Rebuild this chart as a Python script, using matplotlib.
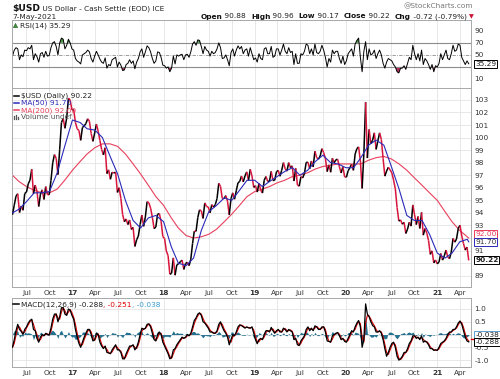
import matplotlib
matplotlib.use('Agg')
import numpy as np
import pandas as pd
import matplotlib.pyplot as plt
import matplotlib.dates as mdates
from matplotlib.collections import LineCollection

# ---------------- data (weekly closes, Fridays from 2016-05-06) ----------------
price_2016 = [93.86, 94.62, 95.33, 95.53, 94.03, 94.55, 94.21, 95.55, 95.66, 96.31, 96.61, 97.48,
              95.53, 96.22, 95.71, 94.51, 95.50, 95.84, 95.07, 96.10, 95.46, 95.45, 96.57, 97.99,
              98.65, 98.34, 97.05, 99.07, 101.20, 101.52, 100.74, 101.56, 103.15, 102.97, 102.21]
price_2017 = [102.23, 101.20, 100.70, 100.57, 99.78, 100.80, 100.94, 101.12, 101.50, 101.30, 100.33,
              99.70, 100.36, 101.08, 100.51, 99.77, 99.05, 98.62, 99.19, 97.13, 97.43, 96.68, 97.24,
              97.17, 97.25, 95.63, 96.01, 95.15, 93.87, 93.30, 93.52, 93.07, 93.44, 92.68, 92.85,
              91.33, 91.86, 92.16, 93.08, 93.83, 92.93, 93.68, 94.90, 94.81, 94.38, 93.66, 92.75,
              92.88, 93.90, 93.95, 93.33, 92.12]
price_2018 = [91.96, 90.97, 90.60, 89.12, 89.18, 90.42, 89.04, 89.87, 89.94, 90.11, 90.24, 89.50,
              89.97, 90.07, 89.80, 90.31, 91.56, 92.55, 92.53, 93.63, 94.25, 94.17, 93.56, 94.80,
              94.51, 94.47, 94.01, 94.66, 94.46, 94.66, 95.14, 96.36, 96.11, 95.15, 95.13, 95.38,
              94.93, 93.85, 95.14, 95.60, 95.09, 95.76, 96.40, 96.51, 96.94, 96.47, 96.95, 97.27,
              96.59, 97.47, 96.94, 96.03]
price_2019 = [96.17, 95.66, 96.36, 95.82, 95.58, 96.61, 96.90, 96.51, 96.52, 97.31, 96.58, 96.60,
              97.28, 97.39, 96.92, 97.40, 98.01, 97.51, 97.33, 98.01, 97.60, 97.75, 96.54, 97.55,
              96.22, 96.13, 96.89, 96.79, 97.14, 98.02, 98.04, 97.51, 98.14, 97.66, 98.92, 98.40,
              98.28, 98.53, 99.12, 98.81, 98.32, 97.29, 97.83, 97.24, 98.36, 97.99, 98.24, 98.27,
              97.68, 97.18, 97.68, 96.87]
price_2020 = [96.84, 97.36, 97.60, 97.87, 97.39, 98.69, 99.12, 99.26, 98.13, 95.95, 98.74, 102.82,
              98.37, 100.65, 99.51, 99.79, 100.38, 99.06, 99.74, 100.38, 99.84, 98.34, 96.93, 97.33,
              97.64, 97.43, 97.19, 96.61, 95.92, 94.43, 93.35, 93.44, 93.10, 93.25, 92.36, 92.72,
              93.26, 92.95, 94.64, 93.85, 93.07, 93.72, 92.76, 94.04, 92.23, 92.76, 92.39, 91.80,
              90.70, 90.98, 90.02, 90.25]
price_2021 = [89.94, 90.10, 90.77, 90.24, 90.58, 91.04, 90.48, 90.36, 90.88, 91.97, 91.67, 91.92,
              92.77, 93.02, 92.16, 91.56, 91.04, 91.28, 90.22]
price = price_2016 + price_2017 + price_2018 + price_2019 + price_2020 + price_2021

rsi = [48, 58, 62, 60, 42, 50, 47, 58, 57, 62, 60, 66, 42, 52, 47, 38, 52, 54, 46, 56, 48, 49, 62, 70,
       72, 64, 50, 70, 78, 76, 60, 66, 76, 70, 60,
       58, 44, 40, 38, 35, 50, 52, 54, 58, 55, 44, 38, 48, 56, 50, 43, 38, 36, 45, 28, 34, 32, 42, 44,
       46, 30, 38, 33, 24, 25, 34, 36, 42, 36, 40, 27, 38, 44, 55, 60, 46, 55, 65, 62, 55, 44, 36, 40,
       55, 54, 46, 33,
       32, 28, 30, 22, 28, 48, 35, 50, 48, 50, 51, 42, 50, 51, 46, 55, 68, 72, 66, 75, 74, 64, 52, 64,
       58, 56, 48, 56, 52, 54, 60, 70, 62, 44, 45, 50, 42, 32, 54, 60, 48, 58, 65, 60, 64, 52, 58, 60,
       48, 62, 52, 42,
       45, 38, 52, 44, 42, 60, 62, 52, 52, 64, 46, 48, 60, 60, 50, 58, 68, 56, 52, 62, 54, 56, 34, 52,
       36, 36, 52, 50, 56, 68, 66, 52, 60, 50, 68, 54, 52, 56, 66, 58, 46, 30, 44, 38, 58, 52, 56, 56,
       44, 36, 48, 34,
       40, 52, 56, 60, 48, 68, 74, 78, 46, 22, 56, 72, 42, 60, 50, 52, 58, 44, 52, 58, 50, 36, 28, 38,
       44, 42, 40, 34, 30, 22, 20, 28, 28, 32, 26, 36, 46, 42, 66, 52, 42, 52, 40, 58, 34, 44, 40, 34,
       26, 34, 22, 32,
       30, 36, 52, 42, 50, 58, 44, 42, 52, 66, 56, 58, 68, 66, 46, 40, 34, 40, 35.29]

macd = [-0.49, -0.2, 0.15, 0.4, 0.2, 0.12, 0.0, 0.2, 0.3, 0.45, 0.55, 0.6, 0.2, 0.15, -0.15, -0.3, -0.1,
        0.0, -0.05, 0.05, 0.0, -0.02, 0.25, 0.6, 0.8, 0.8, 0.5, 0.7, 1.05, 1.05, 0.8, 0.75, 1.0, 0.95, 0.75,
        0.6, 0.2, -0.1, -0.35, -0.5, -0.3, -0.1, 0.05, 0.2, 0.2, 0.0, -0.25, -0.2, 0.05, 0.0, -0.3, -0.45,
        -0.55, -0.45, -0.7, -0.72, -0.75, -0.6, -0.5, -0.4, -0.6, -0.6, -0.7, -0.95, -0.95, -0.75, -0.6,
        -0.45, -0.45, -0.4, -0.6, -0.5, -0.3, 0.0, 0.25, 0.2, 0.25, 0.4, 0.42, 0.3, 0.05, -0.2, -0.25,
        0.0, 0.1, 0.0, -0.3,
        -0.45, -0.6, -0.75, -0.95, -0.9, -0.6, -0.55, -0.4, -0.3, -0.2, -0.1, -0.15, -0.1, 0.0, -0.05,
        0.05, 0.3, 0.55, 0.65, 0.8, 0.85, 0.75, 0.5, 0.45, 0.35, 0.25, 0.1, 0.1, 0.05, 0.05, 0.15, 0.4,
        0.5, 0.3, 0.15, 0.05, -0.1, -0.4, -0.2, 0.0, -0.05, 0.1, 0.3, 0.38, 0.35, 0.3, 0.25, 0.3, 0.26,
        0.25, 0.3, 0.05,
        -0.2, -0.36, -0.2, -0.15, -0.2, 0.0, 0.15, 0.15, 0.1, 0.28, 0.15, 0.05, 0.15, 0.2, 0.1, 0.1, 0.25,
        0.2, 0.1, 0.2, 0.15, 0.1, -0.2, -0.15, -0.4, -0.43, -0.25, -0.15, -0.05, 0.2, 0.3, 0.15, 0.25,
        0.15, 0.34, 0.3, 0.2, 0.2, 0.3, 0.3, 0.1, -0.25, -0.27, -0.3, -0.05, 0.0, 0.05, 0.08, -0.05,
        -0.2, -0.15, -0.27,
        -0.3, -0.15, 0.0, 0.15, 0.1, 0.3, 0.45, 0.55, 0.3, -0.5, -0.2, 1.2, 0.8, 0.7, 0.5, 0.35, 0.3,
        0.1, 0.1, 0.15, 0.05, -0.2, -0.55, -0.85, -0.7, -0.5, -0.35, -0.3, -0.5, -0.85, -1.0, -0.95,
        -0.85, -0.7, -0.7, -0.55, -0.35, -0.25, -0.05, -0.05, -0.15, -0.1, -0.2, -0.05, -0.3, -0.25,
        -0.3, -0.4, -0.55, -0.55, -0.62, -0.6,
        -0.62, -0.5, -0.35, -0.3, -0.25, -0.15, 0.0, 0.1, 0.1, 0.2, 0.2, 0.3, 0.45, 0.53, 0.4, 0.15,
        -0.1, -0.25, -0.288]

signal = [-0.5, -0.35, -0.03, 0.28, 0.3, 0.16, 0.06, 0.1, 0.25, 0.38, 0.5, 0.58, 0.4, 0.18, 0.0, -0.23,
          -0.2, -0.05, -0.03, 0.0, 0.03, -0.01, 0.12, 0.43, 0.7, 0.8, 0.65, 0.6, 0.88, 1.05, 0.93, 0.78,
          0.88, 0.98, 0.85,
          0.68, 0.4, 0.05, -0.23, -0.43, -0.4, -0.2, -0.03, 0.13, 0.2, 0.1, -0.13, -0.23, -0.08, 0.03,
          -0.15, -0.38, -0.5, -0.5, -0.58, -0.71, -0.74, -0.68, -0.55, -0.45, -0.5, -0.6, -0.65, -0.83,
          -0.95, -0.85, -0.68, -0.53, -0.45, -0.43, -0.5, -0.55, -0.4, -0.15, 0.13, 0.23, 0.23, 0.33,
          0.41, 0.36, 0.18, -0.08, -0.23, -0.13, 0.05, 0.05, -0.15,
          -0.38, -0.53, -0.68, -0.85, -0.93, -0.75, -0.58, -0.48, -0.35, -0.25, -0.15, -0.13, -0.13,
          -0.05, -0.03, 0.0, 0.18, 0.43, 0.6, 0.73, 0.83, 0.8, 0.63, 0.48, 0.4, 0.3, 0.18, 0.1, 0.08,
          0.05, 0.1, 0.28, 0.45, 0.4, 0.23, 0.1, -0.03, -0.25, -0.3, -0.1, -0.03, 0.03, 0.2, 0.34, 0.37,
          0.33, 0.28, 0.28, 0.28, 0.26, 0.28, 0.18,
          -0.08, -0.28, -0.28, -0.18, -0.18, -0.1, 0.08, 0.15, 0.13, 0.19, 0.22, 0.1, 0.1, 0.18, 0.15,
          0.1, 0.18, 0.23, 0.15, 0.15, 0.18, 0.13, -0.05, -0.18, -0.28, -0.42, -0.34, -0.2, -0.1, 0.08,
          0.25, 0.23, 0.2, 0.2, 0.25, 0.32, 0.25, 0.2, 0.25, 0.3, 0.2, -0.08, -0.26, -0.29, -0.18,
          -0.03, 0.03, 0.07, 0.02, -0.13, -0.18, -0.21,
          -0.28, -0.23, -0.08, 0.08, 0.13, 0.2, 0.38, 0.5, 0.43, -0.1, -0.3, 0.45, 0.75, 0.72, 0.6, 0.45,
          0.35, 0.2, 0.1, 0.13, 0.1, -0.08, -0.38, -0.7, -0.78, -0.6, -0.43, -0.33, -0.4, -0.68, -0.93,
          -0.98, -0.9, -0.78, -0.7, -0.63, -0.45, -0.3, -0.15, -0.05, -0.1, -0.13, -0.15, -0.13, -0.18,
          -0.28, -0.28, -0.35, -0.48, -0.55, -0.59, -0.61,
          -0.61, -0.56, -0.43, -0.33, -0.28, -0.2, -0.08, 0.05, 0.1, 0.15, 0.2, 0.25, 0.38, 0.49, 0.47,
          0.28, 0.03, -0.17, -0.251]

# moving averages read roughly at month starts (first = chart start, last = 2021-05-07)
ma50 = [94.0, 94.3, 94.9, 95.6, 95.6, 95.7, 97.2, 99.3,
        101.4, 101.2, 100.7, 100.6, 100.0, 98.5, 97.1, 95.0, 93.4, 92.8, 93.6, 93.8,
        93.3, 91.3, 90.0, 89.8, 90.4, 92.6, 94.1, 94.6, 95.2, 95.0, 95.8, 96.6,
        96.6, 96.1, 96.5, 96.9, 97.3, 97.6, 97.0, 97.4, 98.1, 98.6, 98.0, 97.9,
        97.6, 97.6, 98.4, 99.4, 99.8, 99.4, 97.7, 95.9, 93.8, 93.4, 93.4, 92.3,
        90.8, 90.4, 90.8, 91.7, 91.9, 91.70]
ma200 = [97.0, 96.5, 96.1, 95.8, 95.6, 95.6, 95.9, 96.6,
         97.4, 98.1, 98.7, 99.2, 99.5, 99.5, 99.3, 98.7, 97.9, 97.1, 96.2, 95.3,
         94.6, 93.6, 92.8, 92.2, 92.0, 92.1, 92.3, 92.7, 93.3, 93.9, 94.6, 95.3,
         95.7, 95.9, 96.1, 96.4, 96.6, 96.9, 97.0, 97.2, 97.5, 97.7, 97.8, 97.9,
         97.9, 97.9, 97.9, 98.2, 98.4, 98.5, 98.3, 97.9, 97.4, 96.8, 96.2, 95.6,
         95.0, 94.1, 93.3, 92.6, 92.1, 92.00]

# ---------------- figure ----------------
W, H = 500, 379
fig = plt.figure(figsize=(W / 100, H / 100), dpi=100)
fig.patch.set_facecolor('white')
plt.rcParams['font.family'] = ['DejaVu Sans']

def rect(x0, y0, x1, y1):
    return [x0 / W, 1 - y1 / H, (x1 - x0) / W, (y1 - y0) / H]

L, R = 12, 471
ax_r = fig.add_axes(rect(L, 20, R, 88))
ax_p = fig.add_axes(rect(L, 88, R, 287))
ax_m = fig.add_axes(rect(L, 298, R, 367))

n = min(len(price), len(rsi), len(macd), len(signal))
wk = pd.date_range('2016-05-06', periods=n, freq='W-FRI')
x = mdates.date2num(wk)
price_a = np.array(price[:n])
rsi_a = np.array(rsi[:n], dtype=float)
macd_a = np.array(macd[:n])
sig_a = np.array(signal[:n])
hist_a = macd_a - sig_a

ma_dates = pd.DatetimeIndex(['2016-05-06'] + [d.strftime('%Y-%m-%d') for d in
                            pd.date_range('2016-06-01', '2021-05-01', freq='MS')] + ['2021-05-07'])
xm = mdates.date2num(ma_dates)
m = min(len(xm), len(ma50), len(ma200))

xmin = mdates.date2num(pd.Timestamp('2016-05-04'))
xmax = mdates.date2num(pd.Timestamp('2021-05-16'))
qd = pd.date_range('2016-07-01', '2021-04-01', freq='QS')
qx = mdates.date2num(qd)
qlab = [("%02d" % (d.year % 100)) if d.month == 1 else d.strftime('%b') for d in qd]

FS = 5.3
TC = '#333333'
SP = '#a8a8a8'
GC = '#e4e4e4'

for ax in (ax_r, ax_p, ax_m):
    ax.set_xlim(xmin, xmax)
    ax.set_xticks(qx)
    ax.grid(axis='both', color=GC, lw=0.6)
    ax.set_axisbelow(True)
    for s in ax.spines.values():
        s.set_color(SP)
        s.set_linewidth(0.7)
    ax.yaxis.tick_right()
    ax.tick_params(axis='both', length=0, labelsize=FS, labelcolor=TC, pad=2.5)

for ax in (ax_p, ax_m):
    ax.set_xticklabels(qlab)
    for t, d in zip(ax.get_xticklabels(), qd):
        if d.month == 1:
            t.set_fontweight('bold')
ax_r.set_xticklabels([])

# ---- RSI panel ----
ax_r.set_ylim(-5, 108)
ax_r.set_yticks([10, 30, 50, 70, 90])
ax_r.set_yticklabels(['10', '', '50', '70', '90'])
ax_r.grid(axis='y', visible=False)
ax_r.axhline(70, color='#8c8c8c', lw=0.8)
ax_r.axhline(30, color='#8c8c8c', lw=0.8)
ax_r.axhline(50, color='#8c8c8c', lw=0.6, ls=(0, (4, 1.5, 1, 1.5)))
ax_r.fill_between(x, rsi_a, 70, where=rsi_a > 70, interpolate=True, color='#4d9a4d', lw=0)
ax_r.fill_between(x, rsi_a, 30, where=rsi_a < 30, interpolate=True, color='#b0305a', lw=0)
ax_r.plot(x, rsi_a, color='black', lw=0.7)

# ---- price panel ----
ax_p.set_ylim(88.1, 103.95)
pt = list(range(89, 104))
ax_p.set_yticks(pt)
ax_p.set_yticklabels(['' if v in (90, 92) else str(v) for v in pt])
ax_p.plot(xm[:m], ma200[:m], color='#e8405c', lw=0.8, zorder=2)
ax_p.plot(xm[:m], ma50[:m], color='#2a2ab8', lw=0.8, zorder=4)
pts = np.column_stack([x, price_a])
segs = np.stack([pts[:-1], pts[1:]], axis=1)
cols = ['#000000' if b >= a else '#d8143c' for a, b in zip(price_a[:-1], price_a[1:])]
ax_p.add_collection(LineCollection(segs, colors=cols, linewidths=1.1, zorder=3))

# ---- MACD panel ----
ax_m.set_ylim(-1.27, 1.43)
ax_m.set_yticks([-1.0, -0.5, 0, 0.5, 1.0])
ax_m.set_yticklabels(['-1.0', '-0.5', '', '0.5', '1.0'])
ax_m.fill_between(x, 0, hist_a, color='#24708f', lw=0, zorder=2)
ax_m.plot(x, sig_a, color='#e00000', lw=0.8, zorder=3)
ax_m.plot(x, macd_a, color='black', lw=0.9, zorder=4)

# ---- value tags on the right ----
def tag(ax, yv, txt, ec, tc='#222222', bold=False):
    ax.annotate(txt, xy=(1.0, yv), xycoords=('axes fraction', 'data'), xytext=(3, 0),
                textcoords='offset points', ha='left', va='center', fontsize=FS, color=tc,
                fontweight='bold' if bold else 'normal', annotation_clip=False, zorder=10,
                bbox=dict(boxstyle='square,pad=0.12', fc='white', ec=ec, lw=0.7))

tag(ax_r, 35.29, '35.29', 'black')
tag(ax_p, 92.3, '92.00', '#e8405c', tc='#e8405c')
tag(ax_p, 91.7, '91.70', '#2a2ab8', tc='#333333')
tag(ax_p, 90.22, '90.22', 'black', bold=True)
ax_m.plot([1.0, 1.03], [-0.18, -0.18], transform=ax_m.get_yaxis_transform(), color='#e00000',
          lw=1.0, clip_on=False, zorder=9)
tag(ax_m, 0.0, '-0.038', '#5aa0d0')
tag(ax_m, -0.3, '-0.288', 'black')

# ---------------- overlay text (pixel coords) ----------------
axt = fig.add_axes([0, 0, 1, 1])
axt.set_xlim(0, W)
axt.set_ylim(H, 0)
axt.axis('off')

t0 = axt.text(12, 10.5, '$USD', fontsize=6.6, fontweight='bold', color='#111111', va='baseline')
axt.annotate(' US Dollar - Cash Settle (EOD) ICE', xy=(1, 0), xycoords=t0, ha='left', va='bottom',
             fontsize=5.3, color='#222222')
axt.text(12, 18.5, '7-May-2021', fontsize=5.3, color='#222222', va='baseline')
axt.text(473, 8.5, '@StockCharts.com', fontsize=5.3, color='#777777', va='baseline', ha='right')

pieces = [('Open', 'bold', '#111111'), (' 90.88  ', 'normal', '#222222'),
          ('High', 'bold', '#111111'), (' 90.96  ', 'normal', '#222222'),
          ('Low', 'bold', '#111111'), (' 90.17  ', 'normal', '#222222'),
          ('Close', 'bold', '#111111'), (' 90.22  ', 'normal', '#222222'),
          ('Chg', 'bold', '#111111'), (' -0.72 (-0.79%) ', 'normal', '#222222'),
          ('\u25bc', 'normal', '#cc1030')]
prev = None
for s, w, c in reversed(pieces):
    if prev is None:
        prev = axt.text(474, 18.5, s, fontsize=4.5, fontweight=w, color=c, ha='right', va='baseline')
    else:
        prev = axt.annotate(s, xy=(0, 0), xycoords=prev, ha='right', va='bottom', fontsize=FS,
                            fontweight=w, color=c)

# RSI legend
axt.plot([14.5], [25], marker='^', ms=3.2, color='#3f8f3f', mec='#1d4d1d', mew=0.3)
axt.text(19.5, 27.6, 'RSI(14) 35.29', fontsize=FS, color='#222222', va='baseline')

# price legend
leg = [('$USD (Daily) 90.22', 'black', '#222222'),
       ('MA(50) 91.70', '#2a2ab8', '#2a2ab8'),
       ('MA(200) 92.00', '#e8405c', '#e8405c'),
       ('Volume undef', None, '#555555')]
for i, (s, lc, tc) in enumerate(leg):
    yb = 97.5 + i * 7.3
    if lc is not None:
        axt.plot([13.5, 19], [yb - 2, yb - 2], color=lc, lw=1.1)
    else:
        for k, hgt in enumerate([3, 4.5, 2.5]):
            axt.plot([14 + k * 2, 14 + k * 2], [yb, yb - hgt], color='#555555', lw=0.9)
    axt.text(20.7, yb, s, fontsize=FS, color=tc, va='baseline')

# MACD legend
axt.plot([13, 19], [304, 304], color='black', lw=1.1)
mp = [('MACD(12,26,9) -0.288', '#222222'), (', -0.251', '#e00000'), (', -0.038', '#3a9ad0')]
prev = axt.text(21, 306.2, mp[0][0], fontsize=FS, color=mp[0][1], va='baseline')
for s, c in mp[1:]:
    prev = axt.annotate(s, xy=(1, 0), xycoords=prev, ha='left', va='bottom', fontsize=FS, color=c)

fig.savefig('out.png', dpi=100, facecolor='white')
